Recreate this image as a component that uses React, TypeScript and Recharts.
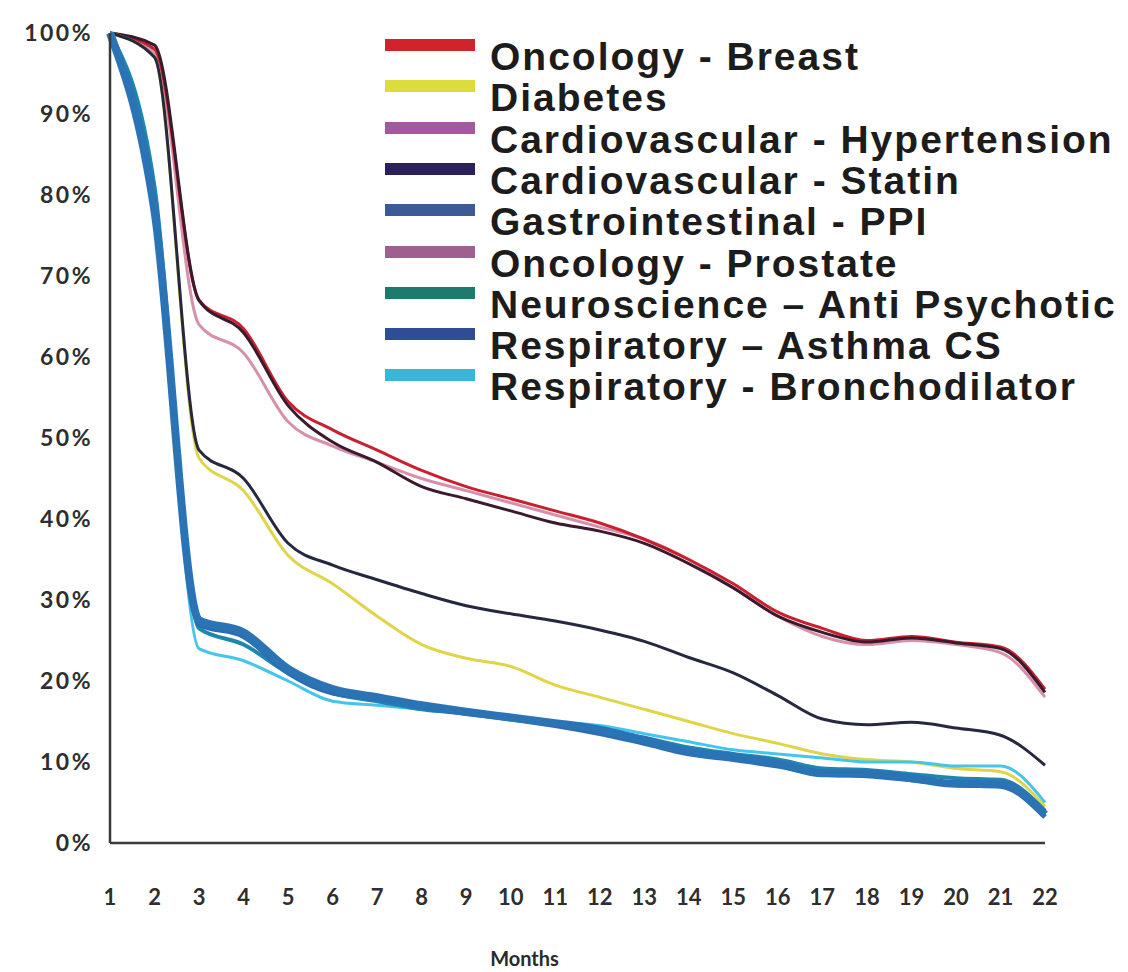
import { Legend, Line, LineChart, XAxis, YAxis } from "recharts";

// months since start of therapy
const months = [1, 2, 3, 4, 5, 6, 7, 8, 9, 10, 11, 12, 13, 14, 15, 16, 17, 18, 19, 20, 21, 22];
const yTicks = [0, 10, 20, 30, 40, 50, 60, 70, 80, 90, 100];

const seriesNames = [
  "Oncology - Breast",
  "Diabetes",
  "Cardiovascular - Hypertension",
  "Cardiovascular - Statin",
  "Gastrointestinal - PPI",
  "Oncology - Prostate",
  "Neuroscience – Anti Psychotic",
  "Respiratory – Asthma CS",
  "Respiratory - Bronchodilator",
];

// persistence (%) per month
const oncologyBreast = [100, 98, 67, 63.5, 54.5, 51, 48.5, 46, 44, 42.5, 41, 39.5, 37.5, 35, 32, 28.5, 26.5, 25, 25.5, 24.8, 24.2, 19];
const diabetes = [100, 97, 47.5, 43.5, 35.5, 32, 28, 24.5, 22.8, 21.8, 19.5, 18, 16.5, 15, 13.5, 12.3, 11, 10.3, 10, 9.2, 8.8, 4.5];
const cardioHypertension = [100, 97.5, 64, 60.5, 52, 49, 47, 45, 43.5, 42, 40.5, 39, 37.5, 35, 31.5, 28, 25.5, 24.5, 25, 24.5, 23.5, 18];
const cardioStatin = [100, 97, 48.5, 45, 37, 34.3, 32.5, 30.8, 29.3, 28.3, 27.4, 26.3, 24.9, 22.9, 21, 18.2, 15.3, 14.6, 14.9, 14.2, 13.3, 9.6];
const giPpi = [100, 79, 27, 25.5, 21, 18.5, 17.8, 16.8, 16, 15.3, 14.5, 13.5, 12.3, 11, 10.3, 9.5, 8.5, 8.3, 7.8, 7.2, 7, 3.2];
const oncologyProstate = [100, 98.5, 67, 63, 54, 49.5, 47, 44, 42.5, 41, 39.5, 38.5, 37, 34.5, 31.5, 28, 26, 24.8, 25.3, 24.7, 24, 18.6];
const neuroAntiPsychotic = [100, 81, 26.5, 24.5, 21, 18.5, 17.5, 16.5, 16, 15.5, 14.8, 14, 13, 11.8, 11, 10.3, 9.2, 9, 8.5, 8, 7.8, 4];
const respAsthma = [100, 78, 27.5, 26, 21.5, 19, 18, 17, 16.2, 15.5, 14.8, 14, 12.7, 11.3, 10.6, 9.8, 8.6, 8.6, 8, 7.3, 7.3, 3.5];
const respBronchodilator = [100, 80, 24, 22.5, 20, 17.5, 17, 16.5, 16, 15.5, 15, 14.5, 13.5, 12.5, 11.5, 11, 10.5, 10, 10, 9.5, 9.5, 5];

const seriesValues = [
  oncologyBreast,
  diabetes,
  cardioHypertension,
  cardioStatin,
  giPpi,
  oncologyProstate,
  neuroAntiPsychotic,
  respAsthma,
  respBronchodilator,
];

const keys = ["breast", "diabetes", "hypertension", "statin", "ppi", "prostate", "neuro", "asthma", "broncho"];

const legendColors = ["#d1232a", "#dcdc3c", "#a35aa0", "#2b1f5c", "#3b5a96", "#a0608f", "#1d7a6c", "#2f4d94", "#3ab7d6"];
const lineColors = ["#c8202e", "#e0d447", "#d890aa", "#262840", "#2e6cae", "#3a1a2c", "#1f86ae", "#2a74b6", "#46c4ec"];
const lineWidths = [3, 3, 3, 3, 5, 3, 4, 8, 3];
// draw order, back to front
const drawOrder = [2, 0, 5, 1, 3, 8, 6, 4, 7];

const data = months.map((m, i) => {
  const row: Record<string, number> = { month: m };
  keys.forEach((k, s) => {
    row[k] = seriesValues[s][i];
  });
  return row;
});

const yTickStyle = { fill: "#2e2e2e", fontSize: 23, fontWeight: 700, fontFamily: "Lato", letterSpacing: 2.5 };
const xTickStyle = { fill: "#2e2e2e", fontSize: 22, fontWeight: 700, fontFamily: "Lato" };

function LegendBox() {
  return (
    <div style={{ position: "relative", width: 740, height: 380 }}>
      {seriesNames.map((name, i) => (
        <div key={name} style={{ position: "absolute", left: 0, top: i * 41.3, width: 740, height: 41 }}>
          <span
            style={{
              position: "absolute",
              left: 0,
              top: 1,
              width: 90,
              height: 12,
              background: legendColors[i],
            }}
          />
          <span
            style={{
              position: "absolute",
              left: 105,
              top: -1,
              fontFamily: "'Liberation Sans', Arial, sans-serif",
              fontWeight: 700,
              fontSize: 39,
              lineHeight: "39px",
              letterSpacing: 2,
              color: "#1c1c1c",
              whiteSpace: "nowrap",
            }}
          >
            {name}
          </span>
        </div>
      ))}
    </div>
  );
}

export default function App() {
  return (
    <div style={{ position: "absolute", left: 0, top: 0, width: 1128, height: 972, background: "#fff" }}>
      <LineChart width={1128} height={972} data={data} margin={{ top: 33, right: 83, bottom: 4, left: 10 }}>
        <XAxis
          type="number"
          dataKey="month"
          domain={[1, 22]}
          ticks={months}
          interval={0}
          height={125}
          tickLine={false}
          tickSize={0}
          tickMargin={46}
          tick={xTickStyle}
          axisLine={{ stroke: "#3a3a3a", strokeWidth: 2.5 }}
          label={{
            value: "Months",
            position: "insideBottom",
            offset: 2,
            dx: -53,
            style: { fill: "#2a2a2a", fontSize: 20, fontWeight: 700, fontFamily: "Lato" },
          }}
        />
        <YAxis
          type="number"
          domain={[0, 100]}
          ticks={yTicks}
          interval={0}
          width={100}
          tickLine={false}
          tickSize={0}
          tickMargin={17}
          tick={yTickStyle}
          tickFormatter={(v: number) => `${v}%`}
          axisLine={{ stroke: "#3a3a3a", strokeWidth: 2.5 }}
        />
        <Legend
          layout="vertical"
          align="center"
          verticalAlign="middle"
          content={() => <LegendBox />}
          wrapperStyle={{ left: 385, top: 38, width: 740 }}
        />
        {drawOrder.map((s) => (
          <Line
            key={keys[s]}
            type="monotone"
            dataKey={keys[s]}
            name={seriesNames[s]}
            stroke={lineColors[s]}
            strokeWidth={lineWidths[s]}
            dot={false}
            isAnimationActive={false}
          />
        ))}
      </LineChart>
    </div>
  );
}
